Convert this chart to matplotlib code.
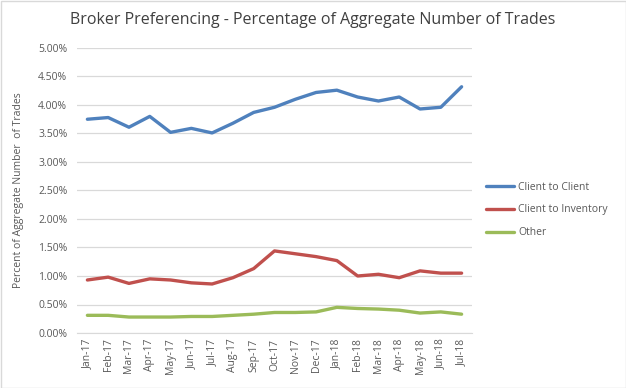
import matplotlib
matplotlib.use("Agg")
import matplotlib.pyplot as plt
from matplotlib.ticker import FuncFormatter, MultipleLocator
from matplotlib.patches import Rectangle

months = ["Jan-17", "Feb-17", "Mar-17", "Apr-17", "May-17", "Jun-17", "Jul-17", "Aug-17",
          "Sep-17", "Oct-17", "Nov-17", "Dec-17", "Jan-18", "Feb-18", "Mar-18", "Apr-18",
          "May-18", "Jun-18", "Jul-18"]
client_to_client = [3.75, 3.78, 3.61, 3.80, 3.52, 3.59, 3.51, 3.68, 3.87, 3.96, 4.10, 4.22,
                    4.26, 4.14, 4.07, 4.14, 3.93, 3.96, 4.32]
client_to_inventory = [0.93, 0.98, 0.87, 0.95, 0.93, 0.88, 0.86, 0.97, 1.13, 1.44, 1.39, 1.34,
                       1.27, 1.00, 1.03, 0.97, 1.09, 1.05, 1.05]
other = [0.31, 0.31, 0.28, 0.28, 0.28, 0.29, 0.29, 0.31, 0.33, 0.36, 0.36, 0.37,
         0.45, 0.43, 0.42, 0.40, 0.35, 0.37, 0.33]

plt.rcParams['font.family'] = ['Open Sans', 'DejaVu Sans']

fig = plt.figure(figsize=(6.26, 3.88), dpi=100)
ax = fig.add_axes([77/626, 1-333/388, (472-77)/626, (333-48)/388])

x = list(range(len(months)))
ax.plot(x, client_to_client, color="#4F81BD", lw=2.4, label="Client to Client", solid_capstyle="round")
ax.plot(x, client_to_inventory, color="#C0504D", lw=2.4, label="Client to Inventory", solid_capstyle="round")
ax.plot(x, other, color="#9BBB59", lw=2.4, label="Other", solid_capstyle="round")

ax.set_xlim(-0.5, len(months) - 0.5)
ax.set_ylim(0, 5)
ax.yaxis.set_major_locator(MultipleLocator(0.5))
ax.yaxis.set_major_formatter(FuncFormatter(lambda v, p: f"{v:.2f}%"))
ax.set_xticks(x)
ax.set_xticklabels(months, rotation=90, fontsize=7.5, color="#595959")
ax.tick_params(axis='y', labelsize=7.5, labelcolor="#595959", length=0, pad=7)
ax.tick_params(axis='x', length=0, pad=4)
ax.grid(axis='y', color="#D9D9D9", lw=0.9)
ax.set_axisbelow(True)
for s in ["top", "right", "left"]:
    ax.spines[s].set_visible(False)
ax.spines["bottom"].set_color("#D9D9D9")

ax.set_ylabel("Percent of Aggregate Number  of Trades", fontsize=7.5, color="#595959", labelpad=10)

fig.text(0.5, 1-20/388, "Broker Preferencing - Percentage of Aggregate Number of Trades",
         ha="center", va="center", fontsize=11.5, color="#404040")

leg = fig.legend(loc="center left", bbox_to_anchor=(486/626, 1-210/388),
                 bbox_transform=fig.transFigure, frameon=False, fontsize=7.5,
                 handlelength=2.7, handletextpad=0.4, labelspacing=1.15, borderaxespad=0, borderpad=0)
for t in leg.get_texts():
    t.set_color("#595959")

fig.patches.append(Rectangle((0.5/626, 0.5/388), 1-1/626, 1-1/388, transform=fig.transFigure,
                             fill=False, edgecolor="#D9D9D9", lw=1))

fig.savefig("out.png", dpi=100)
